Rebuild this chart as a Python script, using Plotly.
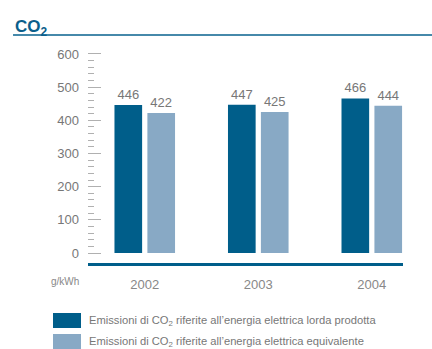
import plotly.graph_objects as go

# Data
years = ["2002", "2003", "2004"]
lorda = [446, 447, 466]
equivalente = [422, 425, 444]
series_names = [
    "Emissioni di CO<sub>2</sub> riferite all’energia elettrica lorda prodotta",
    "Emissioni di CO<sub>2</sub> riferite all’energia elettrica equivalente",
]
y_major = list(range(0, 601, 100))
y_minor = [v for v in range(0, 601, 20) if v % 100 != 0]
unit_label = "g/kWh"

DARK = "#005e8a"
LIGHT = "#88a9c5"
GRAY = "#777777"
FONT = "Liberation Sans, Arial, sans-serif"

fig = go.Figure()
for vals, color, name in [(lorda, DARK, series_names[0]), (equivalente, LIGHT, series_names[1])]:
    fig.add_trace(go.Bar(
        x=years, y=vals, name=name, marker=dict(color=color, line=dict(width=0)),
        text=[str(v) for v in vals], textposition="outside", cliponaxis=False,
        textfont=dict(color=GRAY, size=13, family=FONT), showlegend=False,
    ))

fig.update_layout(
    width=432, height=349,
    margin=dict(l=88, r=29, t=49, b=86),
    paper_bgcolor="white", plot_bgcolor="white",
    barmode="group", bargap=0.42, bargroupgap=0.16,
    font=dict(family=FONT, color=GRAY),
    xaxis=dict(
        type="category", range=[-0.5, 2.275], showgrid=False, zeroline=False,
        showline=True, linecolor=DARK, linewidth=2.5, ticks="",
        tickfont=dict(size=13, color="#888888"), ticklabelstandoff=8,
    ),
    yaxis=dict(
        range=[-30, 615], showgrid=False, zeroline=False, showline=False,
        tickmode="array", tickvals=y_major, ticks="inside", ticklen=13,
        tickcolor="#b0b0b0", tickwidth=1, ticklabelstandoff=8,
        tickfont=dict(size=13, color=GRAY),
        minor=dict(tickmode="array", tickvals=y_minor, ticks="inside",
                   ticklen=6, tickcolor="#b0b0b0", tickwidth=1, showgrid=False),
    ),
)

# Header: title and rule
fig.add_annotation(xref="paper", yref="paper", x=-0.238, y=1.10, xanchor="left",
                   yanchor="middle", showarrow=False,
                   text="<b>CO<sub>2</sub></b>", font=dict(size=17, color="#0b5e8b", family=FONT))
fig.add_shape(type="line", xref="paper", yref="paper", x0=-0.238, x1=1.1,
              y0=1.065, y1=1.065, line=dict(color="#4689aa", width=2))

# Unit label
fig.add_annotation(xref="paper", yref="paper", x=-0.022, y=-0.085, xanchor="right",
                   yanchor="middle", showarrow=False, text=unit_label,
                   font=dict(size=10, color="#888888", family=FONT))

# Legend swatches and labels
for i, (color, name) in enumerate([(DARK, series_names[0]), (LIGHT, series_names[1])]):
    ytop = 313 + i * 21
    fig.add_shape(type="rect", xref="paper", yref="paper",
                  x0=(53 - 88) / 315, x1=(81 - 88) / 315,
                  y0=(263 - ytop) / 214, y1=(263 - ytop - 15) / 214,
                  fillcolor=color, line=dict(width=0))
    fig.add_annotation(xref="paper", yref="paper", x=(87 - 88) / 315,
                       y=(263 - ytop - 8) / 214, xanchor="left", yanchor="middle",
                       showarrow=False, text=name,
                       font=dict(size=11.2, color=GRAY, family=FONT))

fig.write_html("out.html")
